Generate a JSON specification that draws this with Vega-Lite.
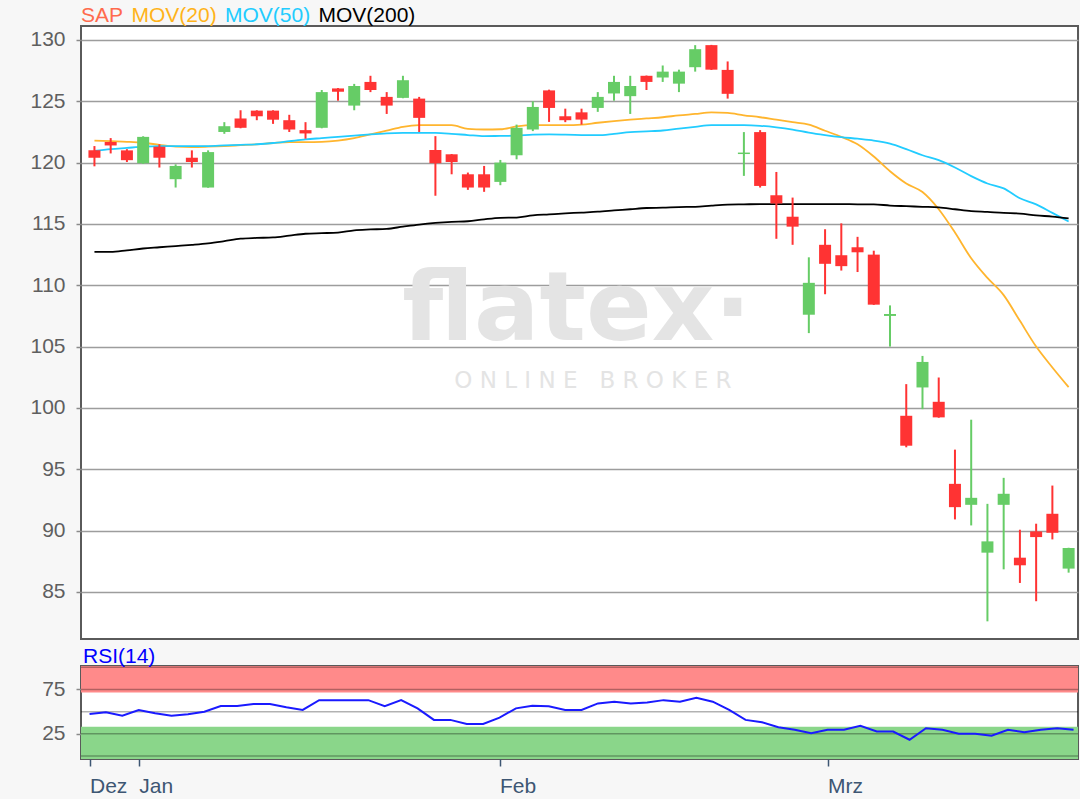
{
  "$schema": "https://vega.github.io/schema/vega-lite/v6.json",
  "background": "#f7f7f7",
  "padding": {"left": 28, "top": 4, "right": 2, "bottom": 2},
  "spacing": 5,
  "resolve": {"scale": {"color": "independent"}, "legend": {"color": "independent"}},
  "config": {
    "font": "Liberation Sans",
    "view": {"fill": "white", "stroke": "#5a5a5a", "strokeWidth": 2},
    "axisY": {"labelFont": "Liberation Sans", "labelFontSize": 21, "labelColor": "#5f5f5f", "labelPadding": 11, "tickSize": 5, "tickWidth": 1.5, "tickColor": "#8a8a8a", "domain": false, "grid": false, "minExtent": 52, "maxExtent": 52},
    "axisX": {"labelFont": "Liberation Sans", "labelFontSize": 21, "labelColor": "#3d5673", "labelPadding": 9, "tickSize": 7, "tickWidth": 1.5, "tickColor": "#3d5673", "domain": false, "grid": false, "labelAlign": "left", "labelDx": -1}
  },
  "datasets": {
    "prices": [
      {"i":0,"d":"2019-12-23","o":121.0,"h":121.35,"l":119.7,"c":120.4,"m20":121.8,"m50":120.95,"m200":112.72,"rsi":47.4},
      {"i":1,"d":"2019-12-27","o":121.68,"h":122.0,"l":120.75,"c":121.4,"m20":121.75,"m50":121.1,"m200":112.72,"rsi":49.3},
      {"i":2,"d":"2019-12-30","o":121.0,"h":121.1,"l":120.05,"c":120.2,"m20":121.7,"m50":121.2,"m200":112.85,"rsi":45.5},
      {"i":3,"d":"2020-01-02","o":119.95,"h":122.15,"l":119.9,"c":122.1,"m20":121.62,"m50":121.3,"m200":113.0,"rsi":51.9},
      {"i":4,"d":"2020-01-03","o":121.3,"h":121.5,"l":119.6,"c":120.4,"m20":121.45,"m50":121.35,"m200":113.1,"rsi":48.1},
      {"i":5,"d":"2020-01-06","o":118.65,"h":119.86,"l":117.97,"c":119.73,"m20":121.3,"m50":121.35,"m200":113.2,"rsi":45.5},
      {"i":6,"d":"2020-01-07","o":120.4,"h":121.0,"l":119.6,"c":120.05,"m20":121.27,"m50":121.35,"m200":113.3,"rsi":47},
      {"i":7,"d":"2020-01-08","o":117.97,"h":121.0,"l":117.95,"c":120.86,"m20":121.3,"m50":121.35,"m200":113.42,"rsi":50},
      {"i":8,"d":"2020-01-09","o":122.5,"h":123.3,"l":122.35,"c":122.97,"m20":121.35,"m50":121.4,"m200":113.6,"rsi":56.3},
      {"i":9,"d":"2020-01-10","o":123.6,"h":124.27,"l":122.8,"c":122.84,"m20":121.42,"m50":121.45,"m200":113.8,"rsi":56.3},
      {"i":10,"d":"2020-01-13","o":124.24,"h":124.27,"l":123.46,"c":123.78,"m20":121.49,"m50":121.5,"m200":113.86,"rsi":58.6},
      {"i":11,"d":"2020-01-14","o":124.24,"h":124.27,"l":123.16,"c":123.5,"m20":121.6,"m50":121.6,"m200":113.9,"rsi":58.6},
      {"i":12,"d":"2020-01-15","o":123.46,"h":123.9,"l":122.5,"c":122.7,"m20":121.68,"m50":121.75,"m200":114.05,"rsi":54.9},
      {"i":13,"d":"2020-01-16","o":122.65,"h":123.3,"l":121.95,"c":122.38,"m20":121.68,"m50":121.9,"m200":114.2,"rsi":51.9},
      {"i":14,"d":"2020-01-17","o":122.84,"h":125.92,"l":122.8,"c":125.75,"m20":121.7,"m50":122.0,"m200":114.25,"rsi":63},
      {"i":15,"d":"2020-01-20","o":126.05,"h":126.08,"l":125.05,"c":125.78,"m20":121.8,"m50":122.1,"m200":114.3,"rsi":63},
      {"i":16,"d":"2020-01-21","o":124.65,"h":126.42,"l":124.27,"c":126.25,"m20":122.0,"m50":122.2,"m200":114.48,"rsi":63},
      {"i":17,"d":"2020-01-22","o":126.58,"h":127.08,"l":125.75,"c":125.92,"m20":122.3,"m50":122.3,"m200":114.55,"rsi":63},
      {"i":18,"d":"2020-01-23","o":125.36,"h":125.75,"l":123.97,"c":124.65,"m20":122.6,"m50":122.38,"m200":114.6,"rsi":56.3},
      {"i":19,"d":"2020-01-24","o":125.28,"h":127.08,"l":125.25,"c":126.72,"m20":122.92,"m50":122.42,"m200":114.78,"rsi":63},
      {"i":20,"d":"2020-01-27","o":125.22,"h":125.36,"l":122.5,"c":123.65,"m20":123.05,"m50":122.43,"m200":114.95,"rsi":53.7},
      {"i":21,"d":"2020-01-28","o":121.03,"h":122.16,"l":117.3,"c":119.95,"m20":123.05,"m50":122.42,"m200":115.08,"rsi":40.7},
      {"i":22,"d":"2020-01-29","o":120.68,"h":120.7,"l":119.05,"c":120.05,"m20":123.05,"m50":122.35,"m200":115.17,"rsi":40.7},
      {"i":23,"d":"2020-01-30","o":119.05,"h":119.19,"l":117.78,"c":117.97,"m20":122.75,"m50":122.25,"m200":115.22,"rsi":36.2},
      {"i":24,"d":"2020-01-31","o":119.05,"h":119.73,"l":117.62,"c":117.97,"m20":122.7,"m50":122.16,"m200":115.38,"rsi":36.2},
      {"i":25,"d":"2020-02-03","o":118.43,"h":120.22,"l":118.16,"c":120.0,"m20":122.72,"m50":122.18,"m200":115.5,"rsi":43.3},
      {"i":26,"d":"2020-02-04","o":120.6,"h":123.1,"l":120.27,"c":122.84,"m20":122.95,"m50":122.2,"m200":115.52,"rsi":53.7},
      {"i":27,"d":"2020-02-05","o":122.7,"h":125.0,"l":122.57,"c":124.54,"m20":123.05,"m50":122.28,"m200":115.7,"rsi":56.7},
      {"i":28,"d":"2020-02-06","o":125.89,"h":125.95,"l":123.32,"c":124.46,"m20":123.05,"m50":122.3,"m200":115.78,"rsi":56},
      {"i":29,"d":"2020-02-07","o":123.78,"h":124.4,"l":123.3,"c":123.46,"m20":123.05,"m50":122.28,"m200":115.86,"rsi":51.9},
      {"i":30,"d":"2020-02-10","o":124.1,"h":124.4,"l":123.1,"c":123.51,"m20":123.1,"m50":122.25,"m200":115.93,"rsi":51.9},
      {"i":31,"d":"2020-02-11","o":124.46,"h":125.75,"l":124.14,"c":125.36,"m20":123.25,"m50":122.24,"m200":116.0,"rsi":59.3},
      {"i":32,"d":"2020-02-12","o":125.64,"h":127.08,"l":125.05,"c":126.58,"m20":123.38,"m50":122.35,"m200":116.1,"rsi":61.2},
      {"i":33,"d":"2020-02-13","o":125.42,"h":127.08,"l":123.97,"c":126.25,"m20":123.5,"m50":122.49,"m200":116.2,"rsi":59.3},
      {"i":34,"d":"2020-02-14","o":127.08,"h":127.1,"l":125.92,"c":126.58,"m20":123.6,"m50":122.55,"m200":116.3,"rsi":60.4},
      {"i":35,"d":"2020-02-17","o":126.94,"h":127.92,"l":126.58,"c":127.42,"m20":123.7,"m50":122.62,"m200":116.33,"rsi":63},
      {"i":36,"d":"2020-02-18","o":126.44,"h":127.58,"l":125.75,"c":127.42,"m20":123.85,"m50":122.78,"m200":116.38,"rsi":61.2},
      {"i":37,"d":"2020-02-19","o":127.78,"h":129.58,"l":127.42,"c":129.25,"m20":123.97,"m50":122.92,"m200":116.4,"rsi":65.7},
      {"i":38,"d":"2020-02-20","o":129.58,"h":129.6,"l":127.55,"c":127.58,"m20":124.1,"m50":123.05,"m200":116.5,"rsi":61.2},
      {"i":39,"d":"2020-02-21","o":127.56,"h":128.25,"l":125.22,"c":125.61,"m20":124.05,"m50":123.05,"m200":116.58,"rsi":51.9},
      {"i":40,"d":"2020-02-24","o":120.7,"h":122.49,"l":118.92,"c":120.82,"m20":123.86,"m50":123.05,"m200":116.6,"rsi":40.7},
      {"i":41,"d":"2020-02-25","o":122.49,"h":122.65,"l":117.97,"c":118.1,"m20":123.7,"m50":123.0,"m200":116.62,"rsi":38.1},
      {"i":42,"d":"2020-02-26","o":117.34,"h":119.24,"l":113.79,"c":116.67,"m20":123.5,"m50":122.88,"m200":116.62,"rsi":32.5},
      {"i":43,"d":"2020-02-27","o":115.59,"h":117.15,"l":113.3,"c":114.78,"m20":123.3,"m50":122.7,"m200":116.62,"rsi":29.5},
      {"i":44,"d":"2020-02-28","o":107.6,"h":112.28,"l":106.1,"c":110.2,"m20":123.1,"m50":122.45,"m200":116.62,"rsi":25.7},
      {"i":45,"d":"2020-03-02","o":113.3,"h":114.57,"l":109.27,"c":111.75,"m20":122.6,"m50":122.25,"m200":116.62,"rsi":29.5},
      {"i":46,"d":"2020-03-03","o":112.45,"h":115.05,"l":111.2,"c":111.56,"m20":122.1,"m50":122.08,"m200":116.62,"rsi":29.5},
      {"i":47,"d":"2020-03-04","o":113.1,"h":113.95,"l":111.08,"c":112.69,"m20":121.5,"m50":121.95,"m200":116.6,"rsi":34},
      {"i":48,"d":"2020-03-05","o":112.5,"h":112.82,"l":108.4,"c":108.42,"m20":120.5,"m50":121.8,"m200":116.6,"rsi":27.6},
      {"i":49,"d":"2020-03-06","o":107.5,"h":108.36,"l":105.0,"c":107.66,"m20":119.3,"m50":121.55,"m200":116.5,"rsi":27.6},
      {"i":50,"d":"2020-03-09","o":99.36,"h":101.94,"l":96.79,"c":96.92,"m20":118.3,"m50":121.1,"m200":116.45,"rsi":18.3},
      {"i":51,"d":"2020-03-10","o":101.67,"h":104.24,"l":99.9,"c":103.75,"m20":117.6,"m50":120.6,"m200":116.4,"rsi":31.3},
      {"i":52,"d":"2020-03-11","o":100.5,"h":102.48,"l":99.2,"c":99.23,"m20":116.2,"m50":120.2,"m200":116.35,"rsi":29.5},
      {"i":53,"d":"2020-03-12","o":93.81,"h":96.6,"l":90.91,"c":91.91,"m20":114.3,"m50":119.6,"m200":116.2,"rsi":25},
      {"i":54,"d":"2020-03-13","o":92.1,"h":99.04,"l":90.42,"c":92.67,"m20":112.2,"m50":118.9,"m200":116.05,"rsi":25},
      {"i":55,"d":"2020-03-16","o":88.2,"h":92.18,"l":82.6,"c":89.12,"m20":110.6,"m50":118.3,"m200":115.98,"rsi":22.8},
      {"i":56,"d":"2020-03-17","o":92.1,"h":94.3,"l":86.84,"c":93.0,"m20":109.2,"m50":117.9,"m200":115.9,"rsi":29.5},
      {"i":57,"d":"2020-03-18","o":87.79,"h":90.07,"l":85.73,"c":87.17,"m20":107.1,"m50":117.1,"m200":115.85,"rsi":26.9},
      {"i":58,"d":"2020-03-19","o":89.93,"h":90.56,"l":84.24,"c":89.47,"m20":105.0,"m50":116.6,"m200":115.7,"rsi":29.5},
      {"i":59,"d":"2020-03-20","o":91.37,"h":93.67,"l":89.28,"c":89.82,"m20":103.3,"m50":115.9,"m200":115.6,"rsi":31.3},
      {"i":60,"d":"2020-03-23","o":86.9,"h":88.6,"l":86.57,"c":88.58,"m20":101.7,"m50":115.2,"m200":115.46,"rsi":29.5}
    ],
    "bands": [
      {"zone": "overbought", "lo": 71.5, "hi": 110},
      {"zone": "oversold", "lo": -10, "hi": 33}
    ],
    "rsigrid": [{"v": 0}, {"v": 25}, {"v": 50}, {"v": 75}, {"v": 100}],
    "wm1": [{"t": "flatex·"}],
    "wm2": [{"t": "O\u00a0N\u00a0L\u00a0I\u00a0N\u00a0E\u00a0\u00a0\u00a0B\u00a0R\u00a0O\u00a0K\u00a0E\u00a0R"}]
  },
  "vconcat": [
    {
      "width": 997,
      "height": 613,
      "layer": [
        {
          "data": {"name": "wm1"},
          "mark": {"type": "text", "font": "DejaVu Sans", "fontWeight": "bold", "fontSize": 97, "color": "#e4e4e4", "align": "center", "baseline": "alphabetic"},
          "encoding": {
            "x": {"datum": 29.7, "type": "quantitative", "scale": {"domain": [-0.52, 60.27], "nice": false, "zero": false}, "axis": null},
            "y": {"datum": 105.5, "type": "quantitative"},
            "text": {"field": "t"}
          }
        },
        {
          "data": {"name": "wm2"},
          "mark": {"type": "text", "font": "DejaVu Sans", "fontSize": 23, "color": "#e4e4e4", "align": "center", "baseline": "alphabetic"},
          "encoding": {
            "x": {"datum": 30.7, "type": "quantitative"},
            "y": {"datum": 101.6, "type": "quantitative"},
            "text": {"field": "t"}
          }
        },
        {
          "data": {"name": "prices"},
          "transform": [{"fold": ["m20", "m50", "m200"], "as": ["s", "v"]}],
          "mark": {"type": "line", "strokeWidth": 1.8, "interpolate": "monotone", "clip": true},
          "encoding": {
            "x": {"field": "i", "type": "quantitative", "title": null},
            "y": {"field": "v", "type": "quantitative", "title": null, "scale": {"domain": [81.16, 131.14], "nice": false, "zero": false}, "axis": {"values": [85, 90, 95, 100, 105, 110, 115, 120, 125, 130], "grid": true, "gridColor": "#9d9d9d", "gridWidth": 1.5}},
            "color": {
              "field": "s", "type": "nominal",
              "scale": {"domain": ["sap", "m20", "m50", "m200"], "range": ["#ff6a4d", "#ffb52e", "#22ccff", "#000000"]},
              "legend": {
                "orient": "none", "legendX": 2.5, "legendY": -21, "direction": "horizontal", "title": null,
                "symbolSize": 0, "symbolOpacity": 0, "symbolStrokeWidth": 0, "labelOffset": -23.5, "columnPadding": 7.5, "padding": 0,
                "labelFont": "Liberation Sans", "labelFontSize": 21, "labelLimit": 0,
                "labelExpr": "datum.label === 'sap' ? 'SAP' : datum.label === 'm20' ? 'MOV(20)' : datum.label === 'm50' ? 'MOV(50)' : 'MOV(200)'",
                "encode": {"labels": {"update": {"fill": {"signal": "datum.value === 'sap' ? '#ff6a4d' : datum.value === 'm20' ? '#ffb31a' : datum.value === 'm50' ? '#22ccff' : '#000000'"}}}}
              }
            }
          }
        },
        {
          "data": {"name": "prices"},
          "mark": {"type": "rule", "strokeWidth": 2, "clip": true},
          "encoding": {
            "x": {"field": "i", "type": "quantitative", "title": null},
            "y": {"field": "l", "type": "quantitative", "title": null},
            "y2": {"field": "h"},
            "color": {"condition": {"test": "datum.c >= datum.o", "value": "#66cc66"}, "value": "#ff3333"}
          }
        },
        {
          "data": {"name": "prices"},
          "mark": {"type": "bar", "size": 12, "clip": true},
          "encoding": {
            "x": {"field": "i", "type": "quantitative", "title": null},
            "y": {"field": "o", "type": "quantitative", "title": null},
            "y2": {"field": "c"},
            "color": {"condition": {"test": "datum.c >= datum.o", "value": "#66cc66"}, "value": "#ff3333"}
          }
        }
      ]
    },
    {
      "width": 997,
      "height": 93,
      "title": {"text": "RSI(14)", "anchor": "start", "frame": "group", "color": "#0000ff", "font": "Liberation Sans", "fontSize": 21, "fontWeight": "normal", "offset": -1, "dx": 2},
      "layer": [
        {
          "data": {"name": "bands"},
          "mark": {"type": "rect", "clip": true},
          "encoding": {
            "x": {"datum": -3, "type": "quantitative", "title": null, "scale": {"domain": [-0.52, 60.27], "nice": false, "zero": false}, "axis": {"values": [0, 3, 25, 45], "labelExpr": "datum.value === 0 ? 'Dez' : datum.value === 3 ? 'Jan' : datum.value === 25 ? 'Feb' : 'Mrz'"}},
            "x2": {"datum": 64},
            "y": {"field": "lo", "type": "quantitative", "title": null, "scale": {"domain": [-3.4, 101.5], "nice": false, "zero": false}, "axis": {"values": [25, 75]}},
            "y2": {"field": "hi"},
            "color": {"field": "zone", "type": "nominal", "scale": {"domain": ["overbought", "oversold"], "range": ["#ff8a8a", "#8ad68a"]}, "legend": null}
          }
        },
        {
          "data": {"name": "rsigrid"},
          "mark": {"type": "rule", "color": "#000000", "opacity": 0.3, "strokeWidth": 1.5},
          "encoding": {
            "y": {"field": "v", "type": "quantitative", "title": null}
          }
        },
        {
          "data": {"name": "prices"},
          "mark": {"type": "line", "color": "#1a1aff", "strokeWidth": 2, "clip": true},
          "encoding": {
            "x": {"field": "i", "type": "quantitative", "title": null},
            "y": {"field": "rsi", "type": "quantitative", "title": null}
          }
        }
      ]
    }
  ]
}
